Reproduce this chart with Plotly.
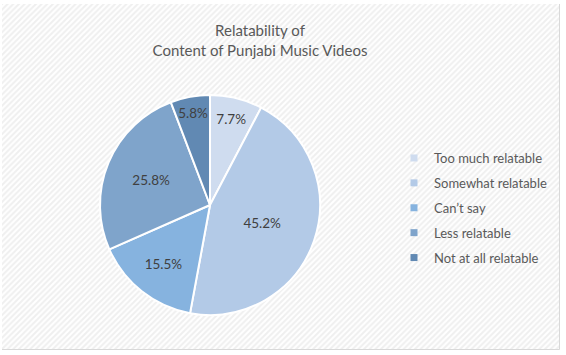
import plotly.graph_objects as go

labels = ["Too much relatable", "Somewhat relatable", "Can\u2019t say", "Less relatable", "Not at all relatable"]
values = [7.7, 45.2, 15.5, 25.8, 5.8]
colors = ["#cfdcef", "#b3cae7", "#86b3df", "#7fa4cb", "#6189b3"]
title_lines = ["Relatability of", "Content of Punjabi Music Videos"]

W, H = 566, 355
cx, cy, r = 210, 205, 110

fig = go.Figure()

# chart area background (hatched) with border
fig.add_trace(go.Bar(
    x=[0], y=[1], width=[1], showlegend=False, hoverinfo="skip",
    marker=dict(color="#ffffff",
                line=dict(color="#d9d9d9", width=1),
                pattern=dict(shape="/", fgcolor="#e0e0e0", bgcolor="#ffffff",
                             size=4, solidity=0.5, fillmode="overlay")),
    xaxis="x", yaxis="y",
))

fig.add_trace(go.Pie(
    labels=labels, values=values, sort=False, direction="clockwise", rotation=0,
    marker=dict(colors=colors, line=dict(color="#ffffff", width=2)),
    texttemplate="%{value:.1f}%", textposition="inside",
    insidetextorientation="horizontal",
    textfont=dict(family="Lato, Open Sans, sans-serif", size=13.5, color="#404040"),
    showlegend=False, hoverinfo="label+value",
    domain=dict(x=[(cx - r) / W, (cx + r) / W], y=[(H - cy - r) / H, (H - cy + r) / H]),
))

# legend entries
for lab, col in zip(labels, colors):
    fig.add_trace(go.Scatter(
        x=[None], y=[None], mode="markers", name=lab, legendgroup=lab,
        marker=dict(symbol="square", size=7, color=col),
        xaxis="x", yaxis="y",
    ))

fig.update_layout(
    width=W, height=H, margin=dict(l=0, r=0, t=0, b=0),
    paper_bgcolor="#ffffff", plot_bgcolor="rgba(0,0,0,0)",
    xaxis=dict(domain=[2 / W, 560 / W], range=[-0.5, 0.5], visible=False, fixedrange=True),
    yaxis=dict(domain=[5 / H, 351 / H], range=[0, 1], visible=False, fixedrange=True),
    bargap=0,
    title=dict(text="<br>".join(title_lines), x=260 / W, xanchor="center",
               y=1 - 36 / H, yanchor="top", yref="container",
               font=dict(family="Lato, Open Sans, sans-serif", size=15, color="#595959")),
    legend=dict(x=394 / W, y=1 - 143 / H, xanchor="left", yanchor="top",
                bgcolor="rgba(0,0,0,0)", tracegroupgap=5, itemwidth=30,
                font=dict(family="Lato, Open Sans, sans-serif", size=13, color="#595959")),
    showlegend=True,
)

fig.write_html("out.html")
